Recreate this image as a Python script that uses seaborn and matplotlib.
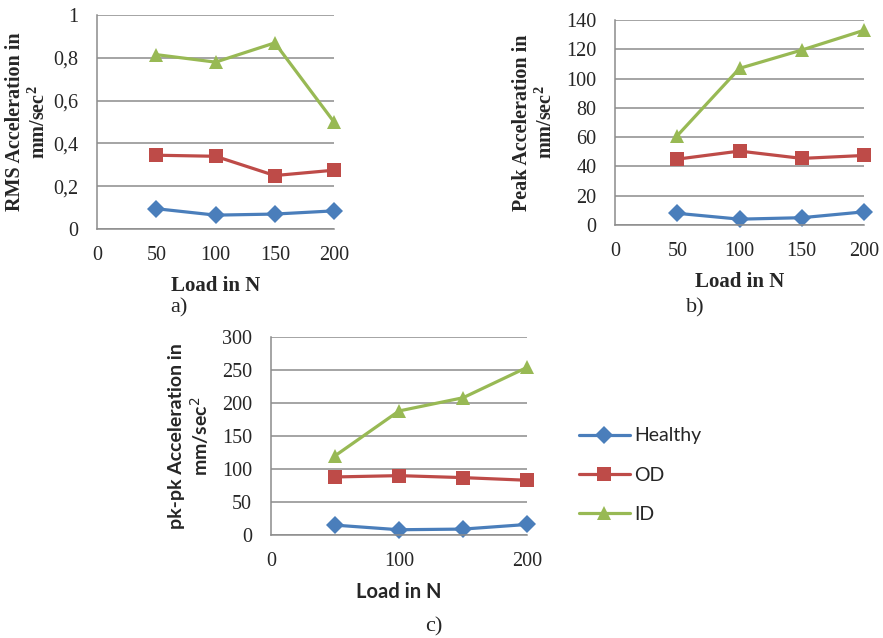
import matplotlib
matplotlib.use("Agg")
import matplotlib.pyplot as plt
import seaborn as sns
import pandas as pd
from matplotlib.lines import Line2D

loads = [50, 100, 150, 200]
series = ["Healthy", "OD", "ID"]

rms_healthy = [0.095, 0.065, 0.07, 0.085]
rms_od = [0.345, 0.34, 0.25, 0.275]
rms_id = [0.815, 0.78, 0.87, 0.50]

peak_healthy = [8, 4, 5, 9]
peak_od = [45, 50.5, 45.5, 47.5]
peak_id = [61, 107, 119.5, 133]

pkpk_healthy = [15, 8, 9, 16]
pkpk_od = [88, 90, 87, 83]
pkpk_id = [120, 188, 208, 254]

rms_yticks = [0, 0.2, 0.4, 0.6, 0.8, 1.0]
rms_ylabels = ["0", "0,2", "0,4", "0,6", "0,8", "1"]
peak_yticks = [0, 20, 40, 60, 80, 100, 120, 140]
pkpk_yticks = [0, 50, 100, 150, 200, 250, 300]
ab_xticks = [0, 50, 100, 150, 200]
c_xticks = [0, 100, 200]

colors = {"Healthy": "#4A7EBB", "OD": "#BE4B48", "ID": "#98B954"}
markers = {"Healthy": "D", "OD": "s", "ID": "^"}
msizes = {"D": 9, "s": 10.5, "^": 10.5}


def make_df(h, o, i):
    rows = []
    for name, vals in zip(series, [h, o, i]):
        for x, v in zip(loads, vals):
            rows.append({"Load": x, "Value": v, "Series": name})
    return pd.DataFrame(rows)


sns.set_theme(style="white")
serif = ["Liberation Serif", "DejaVu Serif"]
sans = ["Lato", "DejaVu Sans"]
plt.rcParams["mathtext.fontset"] = "custom"
plt.rcParams["mathtext.rm"] = "Liberation Serif"
plt.rcParams["mathtext.bf"] = "Liberation Serif:bold"

fig = plt.figure(figsize=(8.83, 6.38), dpi=100)

ax_a = fig.add_axes([0.1099, 0.641, 0.2684, 0.3354])
ax_b = fig.add_axes([0.6965, 0.6473, 0.282, 0.3213])
ax_c = fig.add_axes([0.3069, 0.1614, 0.2899, 0.3103])

panels = [
    (ax_a, make_df(rms_healthy, rms_od, rms_id), rms_yticks, ab_xticks,
     "RMS Acceleration in\nmm/sec$^\\mathbf{2}$", serif, 14.5, -0.293),
    (ax_b, make_df(peak_healthy, peak_od, peak_id), peak_yticks, ab_xticks,
     "Peak Acceleration in\nmm/sec$^\\mathbf{2}$", serif, 14.5, -0.323),
    (ax_c, make_df(pkpk_healthy, pkpk_od, pkpk_id), pkpk_yticks, c_xticks,
     "pk-pk Acceleration in\nmm/sec$^\\mathsf{2}$", sans, 14, -0.318),
]

for ax, df, yt, xt, ylab, labfont, labsize, lx in panels:
    sns.lineplot(data=df, x="Load", y="Value", hue="Series", style="Series",
                 palette=colors, markers=markers, dashes=False, ax=ax,
                 linewidth=2.3, markeredgewidth=0, legend=False)
    for line in ax.lines:
        line.set_markersize(msizes.get(line.get_marker(), 9))
        line.set_clip_on(False)
    ax.set_xlim(0, 200)
    ax.set_ylim(yt[0], yt[-1])
    ax.set_yticks(yt)
    ax.set_xticks(xt)
    if ax is ax_a:
        ax.set_yticklabels(rms_ylabels)
    else:
        ax.set_yticklabels([str(v) for v in yt])
    ax.set_xticklabels([str(v) for v in xt])
    for lab in ax.get_xticklabels() + ax.get_yticklabels():
        lab.set_family(serif)
        lab.set_fontsize(14.5)
    ax.tick_params(axis="y", length=0, pad=13.5)
    ax.tick_params(axis="x", length=0, pad=12)
    ax.grid(axis="y", color="#8c8c8c", linewidth=1.1)
    ax.grid(axis="x", visible=False)
    for s in ["top", "right"]:
        ax.spines[s].set_visible(False)
    for s in ["left", "bottom"]:
        ax.spines[s].set_color("#8c8c8c")
        ax.spines[s].set_linewidth(1.1)
    ax.set_axisbelow(True)
    ax.set_ylabel(ylab, family=labfont, fontsize=labsize, fontweight="bold",
                  linespacing=1.15, va="center", ha="center")
    ax.yaxis.set_label_coords(lx, 0.5)
    ax.set_xlabel("Load in N", family=labfont, fontsize=labsize + 0.5,
                  fontweight="bold", labelpad=8)

fig.text(0.203, 0.517, "a)", family=serif, fontsize=16, ha="center", va="center")
fig.text(0.787, 0.517, "b)", family=serif, fontsize=16, ha="center", va="center")
fig.text(0.4915, 0.018, "c)", family=serif, fontsize=16, ha="center", va="center")

handles = [Line2D([0], [0], color=colors[s], marker=markers[s],
                  markersize=msizes[markers[s]], markeredgewidth=0,
                  linewidth=2.3) for s in series]
leg = fig.legend(handles, series, loc="center left",
                 bbox_to_anchor=(0.636, 0.255), frameon=False,
                 handlelength=2.6, handletextpad=0.25, labelspacing=1.15,
                 prop={"family": "Lato", "size": 14})

fig.savefig("out.png", dpi=100)
